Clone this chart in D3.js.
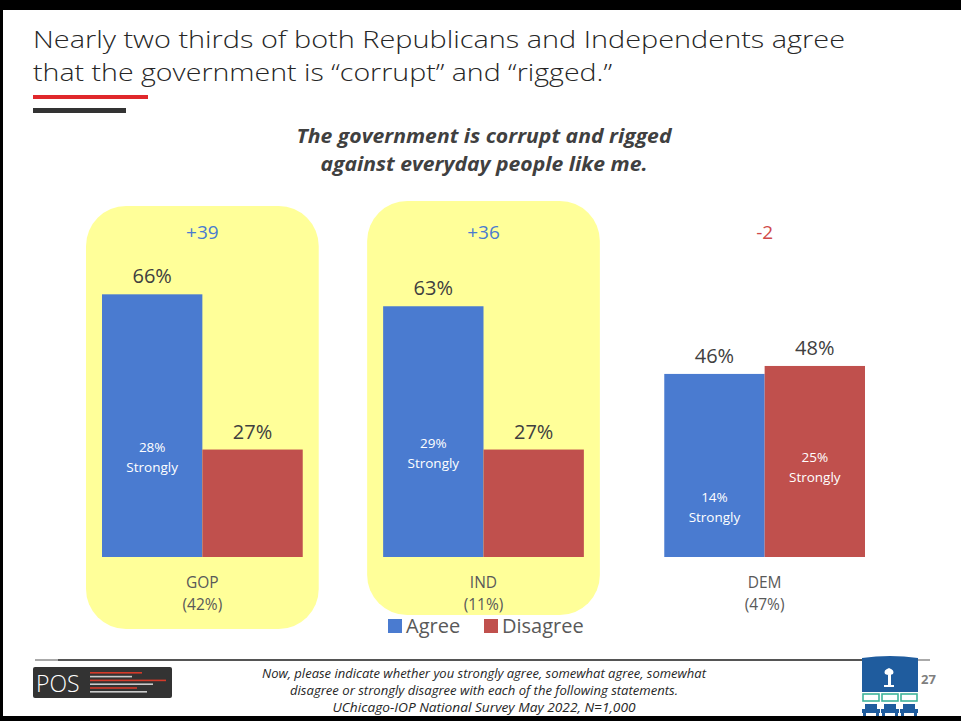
<!DOCTYPE html>
<html>
<head>
<meta charset="utf-8">
<script src="https://cdn.jsdelivr.net/npm/d3@7"></script>
<style>
  body { margin: 0; background: #fff; }
  svg { display: block; }
</style>
</head>
<body>
<div class="chart"></div>
<script>
// data
let groups = ["GOP", "IND", "DEM"];
let groupShare = ["(42%)", "(11%)", "(47%)"];
let agree = [66, 63, 46];
let disagree = [27, 27, 48];
let agreeStrong = [28, 29, 14];
let disagreeStrong = [null, null, 25];
let netLabels = ["+39", "+36", "-2"];
let highlighted = ["GOP", "IND"];
let keys = ["Agree", "Disagree"];

let W = 961, H = 721;
let font = "'Open Sans', 'DejaVu Sans', sans-serif";

let svg = d3.select(".chart")
    .append("svg")
    .attr("width", W)
    .attr("height", H)
    .style("background-color", "white");

// slide frame
svg.append("rect").attr("x", 0).attr("y", 0).attr("width", W).attr("height", 10).attr("fill", "#000");
svg.append("rect").attr("x", 0).attr("y", 0).attr("width", 3).attr("height", H).attr("fill", "#000");
svg.append("rect").attr("x", 0).attr("y", 716).attr("width", W).attr("height", 5).attr("fill", "#000");

// title
let titleLines = ["Nearly two thirds of both Republicans and Independents agree",
    "that the government is \u201ccorrupt\u201d and \u201crigged.\u201d"];
let titleWidths = [812, 579];
svg.append("g").selectAll("text")
    .data(titleLines)
    .enter()
    .append("text")
    .attr("x", 33)
    .attr("y", function (d, i) { return 48 + i * 33; })
    .attr("textLength", function (d, i) { return titleWidths[i]; })
    .attr("lengthAdjust", "spacingAndGlyphs")
    .style("font-family", font)
    .style("font-weight", 300)
    .style("font-size", "24.5px")
    .style("fill", "#262626")
    .text(function (d) { return d; });

svg.append("rect").attr("x", 33).attr("y", 95).attr("width", 115).attr("height", 4).attr("fill", "#e0282b");
svg.append("rect").attr("x", 33).attr("y", 108).attr("width", 93).attr("height", 5).attr("fill", "#333");

// subtitle
let subLines = ["The government is corrupt and rigged", "against everyday people like me."];
let subWidths = [375, 327];
svg.append("g").selectAll("text")
    .data(subLines)
    .enter()
    .append("text")
    .attr("x", 484)
    .attr("y", function (d, i) { return 143 + i * 28; })
    .attr("text-anchor", "middle")
    .attr("textLength", function (d, i) { return subWidths[i]; })
    .attr("lengthAdjust", "spacingAndGlyphs")
    .style("font-family", font)
    .style("font-weight", "bold")
    .style("font-style", "italic")
    .style("font-size", "20px")
    .style("fill", "#404040")
    .text(function (d) { return d; });

// scales
let x0 = d3.scaleBand()
    .domain(groups)
    .range([102, 865])
    .paddingInner(0.286);

let x1 = d3.scaleBand()
    .domain(keys)
    .range([0, x0.bandwidth()]);

let y = d3.scaleLinear()
    .domain([0, 100])
    .range([557, 159]);

let color = d3.scaleOrdinal()
    .domain(keys)
    .range(["#4a7bd0", "#c0504d"]);

let data = groups.map(function (g, i) {
    return {
        group: g,
        share: groupShare[i],
        net: netLabels[i],
        values: [
            { key: "Agree", value: agree[i], strong: agreeStrong[i] },
            { key: "Disagree", value: disagree[i], strong: disagreeStrong[i] }
        ]
    };
});

// yellow highlight boxes
let boxSpan = { GOP: [206, 629], IND: [201, 615] };
svg.append("g").selectAll("rect")
    .data(data.filter(function (d) { return highlighted.indexOf(d.group) >= 0; }))
    .enter()
    .append("rect")
    .attr("x", function (d) { return x0(d.group) - 16; })
    .attr("y", function (d) { return boxSpan[d.group][0]; })
    .attr("width", x0.bandwidth() + 32)
    .attr("height", function (d) { return boxSpan[d.group][1] - boxSpan[d.group][0]; })
    .attr("rx", 40)
    .attr("ry", 40)
    .attr("fill", "#ffff99");

let g = svg.append("g")
    .selectAll("g")
    .data(data)
    .enter()
    .append("g")
    .attr("transform", function (d) { return "translate(" + x0(d.group) + ",0)"; });

// net difference
g.append("text")
    .attr("x", x0.bandwidth() / 2)
    .attr("y", 239)
    .attr("text-anchor", "middle")
    .style("font-family", font)
    .style("font-size", "19px")
    .style("fill", function (d) { return d.net.charAt(0) === "-" ? "#d04a4a" : "#4a7bd0"; })
    .text(function (d) { return d.net; });

// bars
g.selectAll("rect")
    .data(function (d) { return d.values; })
    .enter()
    .append("rect")
    .attr("x", function (d) { return x1(d.key); })
    .attr("y", function (d) { return y(d.value); })
    .attr("width", x1.bandwidth())
    .attr("height", function (d) { return y(0) - y(d.value); })
    .attr("fill", function (d) { return color(d.key); });

// value labels
g.selectAll(".val")
    .data(function (d) { return d.values; })
    .enter()
    .append("text")
    .attr("class", "val")
    .attr("x", function (d) { return x1(d.key) + x1.bandwidth() / 2; })
    .attr("y", function (d) { return y(d.value) - 11; })
    .attr("text-anchor", "middle")
    .style("font-family", font)
    .style("font-size", "20px")
    .style("fill", "#404040")
    .text(function (d) { return d.value + "%"; });

// "strongly" labels inside bars
let strong = g.selectAll(".strong")
    .data(function (d) { return d.values.filter(function (v) { return v.strong != null; }); })
    .enter()
    .append("text")
    .attr("class", "strong")
    .attr("text-anchor", "middle")
    .style("font-family", font)
    .style("font-size", "13.5px")
    .style("fill", "#ffffff");

strong.append("tspan")
    .attr("x", function (d) { return x1(d.key) + x1.bandwidth() / 2; })
    .attr("y", function (d) { return y(d.strong * 0.9) - 5; })
    .text(function (d) { return d.strong + "%"; });

strong.append("tspan")
    .attr("x", function (d) { return x1(d.key) + x1.bandwidth() / 2; })
    .attr("y", function (d) { return y(d.strong * 0.9) + 15; })
    .text("Strongly");

// category labels
g.append("text")
    .attr("x", x0.bandwidth() / 2)
    .attr("y", 588)
    .attr("text-anchor", "middle")
    .style("font-family", font)
    .style("font-size", "15.5px")
    .style("fill", "#595959")
    .text(function (d) { return d.group; });

g.append("text")
    .attr("x", x0.bandwidth() / 2)
    .attr("y", 610)
    .attr("text-anchor", "middle")
    .style("font-family", font)
    .style("font-size", "15.5px")
    .style("fill", "#595959")
    .text(function (d) { return d.share; });

// legend
let legend = svg.append("g")
    .selectAll("g")
    .data(keys)
    .enter()
    .append("g")
    .attr("transform", function (d, i) { return "translate(" + (388 + i * 96) + ",619)"; });

legend.append("rect")
    .attr("width", 14)
    .attr("height", 14)
    .attr("fill", color);

legend.append("text")
    .attr("x", 18)
    .attr("y", 14)
    .style("font-family", font)
    .style("font-size", "20px")
    .style("fill", "#595959")
    .text(function (d) { return d; });

// footer rule
svg.append("rect").attr("x", 35).attr("y", 659).attr("width", 895).attr("height", 2).attr("fill", "#555");
svg.append("rect").attr("x", 35).attr("y", 659).attr("width", 23).attr("height", 2).attr("fill", "#aaa");
svg.append("rect").attr("x", 905).attr("y", 659).attr("width", 25).attr("height", 2).attr("fill", "#aaa");

// POS logo
svg.append("rect").attr("x", 33).attr("y", 667).attr("width", 139).attr("height", 31).attr("rx", 2).attr("fill", "#333");
svg.append("text")
    .attr("x", 36)
    .attr("y", 692)
    .style("font-family", font)
    .style("font-weight", 300)
    .style("font-size", "23px")
    .style("fill", "#fff")
    .text("POS");
let logoLines = [[90, 142, "#d43a2a"], [90, 132, "#ccc"], [90, 166, "#d43a2a"], [90, 153, "#ccc"], [90, 137, "#d43a2a"], [90, 147, "#ccc"]];
svg.append("g").selectAll("rect")
    .data(logoLines)
    .enter()
    .append("rect")
    .attr("x", function (d) { return d[0]; })
    .attr("y", function (d, i) { return 672 + i * 3.8; })
    .attr("width", function (d) { return d[1] - d[0]; })
    .attr("height", 1.6)
    .attr("fill", function (d) { return d[2]; });

// footer note
let notes = ["Now, please indicate whether you strongly agree, somewhat agree, somewhat",
    "disagree or strongly disagree with each of the following statements.",
    "UChicago-IOP National Survey May 2022, N=1,000"];
let noteWidths = [444, 388, 303];
svg.append("g").selectAll("text")
    .data(notes)
    .enter()
    .append("text")
    .attr("x", 484)
    .attr("y", function (d, i) { return 678 + i * 17; })
    .attr("text-anchor", "middle")
    .attr("textLength", function (d, i) { return noteWidths[i]; })
    .attr("lengthAdjust", "spacingAndGlyphs")
    .style("font-family", font)
    .style("font-style", "italic")
    .style("font-size", "12px")
    .style("fill", "#262626")
    .text(function (d) { return d; });

// IOP logo (right)
let iop = svg.append("g").attr("transform", "translate(862,656)");
iop.append("path")
    .attr("d", "M0,2 Q28,-2 56,2 L56,36 L0,36 Z")
    .attr("fill", "#1f5c9e");
iop.append("path")
    .attr("d", "M27,12 q-6,2 -4,6 q4,2 8,0 q2,-4 -4,-6 Z M26,18 L26,30 L29,30 L29,18 Z")
    .attr("fill", "#fff");
iop.append("rect").attr("x", 22).attr("y", 29).attr("width", 10).attr("height", 2).attr("fill", "#fff");
[0, 19, 38].forEach(function (dx) {
    iop.append("rect").attr("x", dx + 1).attr("y", 38).attr("width", 16).attr("height", 7)
        .attr("fill", "none").attr("stroke", "#3fb39a").attr("stroke-width", 1.6);
    iop.append("rect").attr("x", dx + 3).attr("y", 48).attr("width", 12).attr("height", 5).attr("fill", "#1f5c9e");
    iop.append("rect").attr("x", dx).attr("y", 53).attr("width", 18).attr("height", 4).attr("fill", "#1f5c9e");
    iop.append("rect").attr("x", dx + 1).attr("y", 57).attr("width", 3).attr("height", 3).attr("fill", "#1f5c9e");
    iop.append("rect").attr("x", dx + 14).attr("y", 57).attr("width", 3).attr("height", 3).attr("fill", "#1f5c9e");
});
svg.append("text")
    .attr("x", 921)
    .attr("y", 684)
    .style("font-family", font)
    .style("font-weight", "bold")
    .style("font-size", "13px")
    .style("fill", "#7f7f7f")
    .text("27");
</script>
</body>
</html>
